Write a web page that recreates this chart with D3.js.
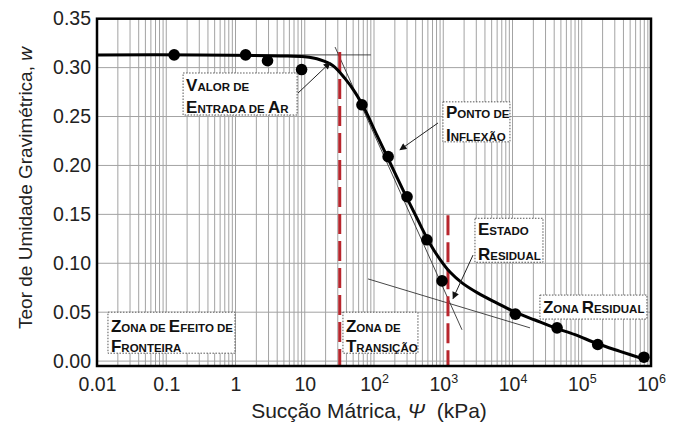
<!DOCTYPE html>
<html><head><meta charset="utf-8">
<script src="https://cdn.jsdelivr.net/npm/d3@7"></script>
<style>html,body{margin:0;padding:0;background:#fff}</style>
</head><body><svg id="chart" width="687" height="432"></svg>
<script>
// Measured points of the soil-water characteristic curve
const suction = [0.13, 1.4, 2.9, 9, 67, 160, 300, 580, 960, 11000, 44000, 170000, 790000];
const waterContent = [0.313, 0.313, 0.307, 0.298, 0.262, 0.209, 0.168, 0.124, 0.082, 0.048, 0.034, 0.017, 0.004];

// Fitted curve
const fitSuction = [0.01, 0.3, 4.4, 10, 16.6, 25.6, 38, 53, 74, 110, 170, 262, 418, 644, 897, 1250, 1866, 3177, 5970, 10900, 21100, 41100, 80000, 166000, 357000, 875000];
const fitW = [0.313, 0.313, 0.312, 0.311, 0.308, 0.302, 0.289, 0.275, 0.257, 0.231, 0.203, 0.175, 0.146, 0.120, 0.104, 0.091, 0.080, 0.0695, 0.0593, 0.050, 0.042, 0.034, 0.027, 0.018, 0.010, 0.001];

// Graphical construction lines
const plateauSuction = [1, 90];
const plateauW = [0.313, 0.313];
const slopeSuction = [27.4, 1866];
const slopeW = [0.321, 0.032];
const residualSuction = [82, 17900];
const residualW = [0.084, 0.034];

// Air-entry value and residual suction (kPa), with the top of each marker
const zoneLimits = [32, 1170];
const zoneLimitTop = [0.316, 0.149];

// Axis ticks
const xTickValues = [0.01, 0.1, 1, 10, 1e2, 1e3, 1e4, 1e5, 1e6];
const xTickBase = ["0.01", "0.1", "1", "10", "10", "10", "10", "10", "10"];
const xTickExp = ["", "", "", "", "2", "3", "4", "5", "6"];
const yTickValues = [0, 0.05, 0.10, 0.15, 0.20, 0.25, 0.30, 0.35];

const svg = d3.select("#chart");
const FONT = "'Liberation Sans', Arial, Helvetica, sans-serif";

const x = d3.scaleLog().domain([0.01, 1e6]).range([97, 651]);
const y = d3.scaleLinear().domain([-0.005, 0.35]).range([366, 18.7]);

// Grid
const grid = svg.append("g").attr("stroke", "#a3a3a3").attr("stroke-width", 1);
const minor = [];
for (let e = -2; e < 6; e++) for (let k = 1; k <= 9; k++) minor.push(k * Math.pow(10, e));
grid.selectAll("line.v").data(minor).join("line")
  .attr("x1", d => x(d)).attr("x2", d => x(d))
  .attr("y1", y.range()[0]).attr("y2", y.range()[1]);
grid.selectAll("line.h").data(yTickValues).join("line")
  .attr("x1", x.range()[0]).attr("x2", x.range()[1])
  .attr("y1", d => y(d)).attr("y2", d => y(d));

// Construction lines
const seg = (xs, ys) => xs.map((v, i) => [x(v), y(ys[i])]);
const thin = svg.append("g").attr("fill", "none").attr("stroke", "#333").attr("stroke-width", 0.9);
[[plateauSuction, plateauW], [slopeSuction, slopeW], [residualSuction, residualW]].forEach(([xs, ys]) => {
  thin.append("path").attr("d", d3.line()(seg(xs, ys)));
});

// Zone limits
svg.append("g").selectAll("line").data(zoneLimits).join("line")
  .attr("x1", d => x(d)).attr("x2", d => x(d))
  .attr("y1", (d, i) => y(zoneLimitTop[i])).attr("y2", y.range()[0])
  .attr("stroke", "#b8262d").attr("stroke-width", 3)
  .attr("stroke-dasharray", "20,7");

// Fitted curve
svg.append("path")
  .attr("d", d3.line().curve(d3.curveCatmullRom.alpha(0.5))(fitSuction.map((s, i) => [x(s), y(fitW[i])])))
  .attr("fill", "none").attr("stroke", "#000").attr("stroke-width", 3);

// Measured points
svg.append("g").selectAll("circle").data(suction).join("circle")
  .attr("cx", d => x(d)).attr("cy", (d, i) => y(waterContent[i]))
  .attr("r", 5.8).attr("fill", "#000");

// Annotations: box anchor (top-left) in kPa / w, size in px
const notes = [
  { at: [0.175, 0.2945], w: 114, h: 42, lines: ["Valor de", "Entrada de Ar"], base: [18, 40] },
  { at: [990, 0.265], w: 67, h: 40, lines: ["Ponto de", "Inflexão"], base: [16, 39] },
  { at: [2870, 0.146], w: 68, h: 44, lines: ["Estado", "Residual"], base: [17, 42] },
  { at: [24900, 0.0675], w: 107, h: 24, lines: ["Zona Residual"], base: [18] },
  { at: [0.0144, 0.050], w: 127, h: 41, lines: ["Zona de Efeito de", "Fronteira"], base: [20, 40] },
  { at: [35.6, 0.050], w: 75, h: 41, lines: ["Zona de", "Transição"], base: [20, 40] }
];
const arrows = [
  { from: [7.99, 0.274], to: [23.2, 0.305] },
  { from: [839, 0.2434], to: [237, 0.216] },
  { from: [2692, 0.1084], to: [1384, 0.064] }
];

svg.append("defs").append("marker")
  .attr("id", "head").attr("viewBox", "0 0 10 10").attr("refX", 9).attr("refY", 5)
  .attr("markerWidth", 8).attr("markerHeight", 7).attr("markerUnits", "userSpaceOnUse")
  .attr("orient", "auto")
  .append("path").attr("d", "M0,0L10,5L0,10Z").attr("fill", "#111");

const ann = svg.append("g");
arrows.forEach(a => {
  ann.append("line")
    .attr("x1", x(a.from[0])).attr("y1", y(a.from[1]))
    .attr("x2", x(a.to[0])).attr("y2", y(a.to[1]))
    .attr("stroke", "#222").attr("stroke-width", 1)
    .attr("marker-end", "url(#head)");
});

function smallCaps(textSel, str) {
  // capital letters drawn large, the rest as small capitals
  let runs = [];
  for (const ch of str) {
    const big = ch !== ch.toLowerCase();
    if (runs.length && runs[runs.length - 1].big === big) runs[runs.length - 1].t += ch;
    else runs.push({ big, t: ch });
  }
  runs.forEach(r => {
    textSel.append("tspan")
      .attr("font-size", r.big ? 17 : 11.5)
      .text(r.t.toUpperCase());
  });
}

notes.forEach(n => {
  const bx = x(n.at[0]), by = y(n.at[1]);
  const g = ann.append("g").attr("transform", `translate(${bx},${by})`);
  g.append("rect").attr("width", n.w).attr("height", n.h)
    .attr("fill", "#fff").attr("stroke", "#555").attr("stroke-width", 1)
    .attr("stroke-dasharray", "1.5,1.5");
  n.lines.forEach((ln, i) => {
    const t = g.append("text").attr("x", 3).attr("y", n.base[i])
      .attr("font-family", FONT).attr("font-weight", "bold").attr("fill", "#111")
      .attr("xml:space", "preserve");
    smallCaps(t, ln);
  });
});

// Frame
svg.append("rect")
  .attr("x", x.range()[0]).attr("y", y.range()[1])
  .attr("width", x.range()[1] - x.range()[0]).attr("height", y.range()[0] - y.range()[1])
  .attr("fill", "none").attr("stroke", "#000").attr("stroke-width", 2.5);

// Axes
const yAxis = svg.append("g").attr("transform", `translate(${x.range()[0]},0)`)
  .call(d3.axisLeft(y).tickValues(yTickValues).tickFormat(d3.format(".2f")).tickSize(0).tickPadding(6));
yAxis.select(".domain").remove();
yAxis.selectAll("text").attr("font-family", FONT).attr("font-size", 19.5).attr("fill", "#222");

const xAxis = svg.append("g").attr("transform", `translate(0,${y.range()[0]})`)
  .call(d3.axisBottom(x).tickValues(xTickValues).tickFormat("").tickSize(0).tickPadding(0));
xAxis.select(".domain").remove();
xAxis.selectAll(".tick").each(function (d, i) {
  const t = d3.select(this).append("text")
    .attr("y", 25).attr("text-anchor", "middle")
    .attr("font-family", FONT).attr("font-size", 19.5).attr("fill", "#222");
  t.append("tspan").text(xTickBase[i]);
  if (xTickExp[i]) t.append("tspan").attr("font-size", 12.5).attr("dy", -8).text(xTickExp[i]);
});

// Axis titles
const yt = svg.append("text")
  .attr("transform", "translate(32,188) rotate(-90)")
  .attr("text-anchor", "middle").attr("font-family", FONT).attr("font-size", 19).attr("fill", "#222");
yt.append("tspan").text("Teor de Umidade Gravimétrica, ");
yt.append("tspan").attr("font-style", "italic").text("w");

const xt = svg.append("text")
  .attr("x", 369).attr("y", 418)
  .attr("text-anchor", "middle").attr("font-family", FONT).attr("font-size", 21).attr("fill", "#222")
  .attr("xml:space", "preserve");
xt.append("tspan").text("Sucção Mátrica, ");
xt.append("tspan").attr("font-style", "italic").text("Ψ");
xt.append("tspan").text("  (kPa)");
</script>
</body></html>
